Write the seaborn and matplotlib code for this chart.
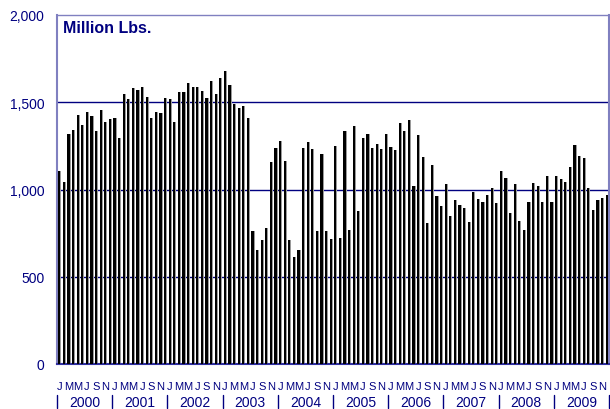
import numpy as np
import pandas as pd
import matplotlib
matplotlib.use('Agg')
import matplotlib.pyplot as plt
import seaborn as sns

# monthly values, Jan 2000 - Dec 2009 (million lbs)
v2000 = [1105, 1042, 1320, 1343, 1429, 1371, 1444, 1419, 1333, 1455, 1389, 1404]
v2001 = [1411, 1295, 1547, 1518, 1579, 1573, 1587, 1530, 1410, 1444, 1438, 1524]
v2002 = [1518, 1389, 1560, 1560, 1613, 1590, 1590, 1564, 1524, 1623, 1547, 1638]
v2003 = [1678, 1596, 1490, 1465, 1480, 1410, 762, 655, 712, 781, 1160, 1240]
v2004 = [1276, 1164, 712, 615, 653, 1236, 1272, 1232, 760, 1204, 762, 714]
v2005 = [1251, 724, 1337, 770, 1362, 874, 1293, 1320, 1236, 1261, 1232, 1318]
v2006 = [1246, 1229, 1383, 1333, 1400, 1021, 1314, 1185, 808, 1143, 964, 905]
v2007 = [1030, 851, 939, 910, 893, 813, 987, 947, 931, 971, 1011, 924]
v2008 = [1107, 1067, 867, 1030, 817, 768, 931, 1036, 1019, 928, 1076, 931]
v2009 = [1076, 1063, 1044, 1131, 1257, 1190, 1179, 1008, 884, 941, 950, 971]

years = ['2000', '2001', '2002', '2003', '2004', '2005', '2006', '2007', '2008', '2009']
month_letters = ['J', 'F', 'M', 'A', 'M', 'J', 'J', 'A', 'S', 'O', 'N', 'D']

values = v2000 + v2001 + v2002 + v2003 + v2004 + v2005 + v2006 + v2007 + v2008 + v2009
df = pd.DataFrame({'idx': range(len(values)), 'value': values})

navy = '#000080'
lav = '#8080c0'

sns.set_style('white')
plt.rcParams['font.family'] = ['Liberation Sans', 'DejaVu Sans']

fig = plt.figure(figsize=(6.1, 4.1), dpi=100)
ax = fig.add_axes([57 / 610, 45 / 410, 552 / 610, 349 / 410])

# grey shadow behind each bar
ax.bar(df['idx'] + 0.2, df['value'], width=0.5, color='#9a9a9a', zorder=2, linewidth=0)
sns.barplot(data=df, x='idx', y='value', color='black', width=0.5, saturation=1,
            ax=ax, zorder=3, linewidth=0, native_scale=True)

ax.set_xlim(-0.5, len(values) - 0.5)
ax.set_ylim(0, 2000)
ax.set_yticks([0, 500, 1000, 1500, 2000])
ax.set_yticklabels(['0', '500', '1,000', '1,500', '2,000'], color=navy, fontsize=10)
for y in [500, 1000, 1500]:
    ax.axhline(y, color=navy, lw=1, zorder=1)

ax.set_xticks(range(0, len(values), 2))
ax.set_xticklabels([month_letters[i % 12] for i in range(0, len(values), 2)],
                   color=navy, fontsize=8)
ax.set_xticks(range(len(values)), minor=True)
ax.tick_params(axis='x', which='both', length=5, color='#555555', pad=7, direction='out')
ax.tick_params(axis='y', length=0, pad=9)
ax.set_xlabel('')
ax.set_ylabel('')

for s in ['left', 'right', 'top']:
    ax.spines[s].set_color(lav)
    ax.spines[s].set_linewidth(1.5)
ax.spines['top'].set_linewidth(1)
ax.spines['bottom'].set_color('#3030a0')
ax.spines['bottom'].set_linewidth(1.5)

# year labels with separators
trans = ax.get_xaxis_transform()
for k, yr in enumerate(years):
    ax.text(k * 12 + 5.5, -0.108, yr, transform=trans, ha='center', va='center',
            color=navy, fontsize=10)
for k in range(len(years) + 1):
    ax.plot([k * 12 - 0.5, k * 12 - 0.5], [-0.088, -0.125], transform=trans,
            color=navy, lw=1, clip_on=False)

ax.text(0.011, 0.985, 'Million Lbs.', transform=ax.transAxes, ha='left', va='top',
        fontsize=11.5, fontweight='bold', color=navy)

fig.savefig('out.png', dpi=100)
